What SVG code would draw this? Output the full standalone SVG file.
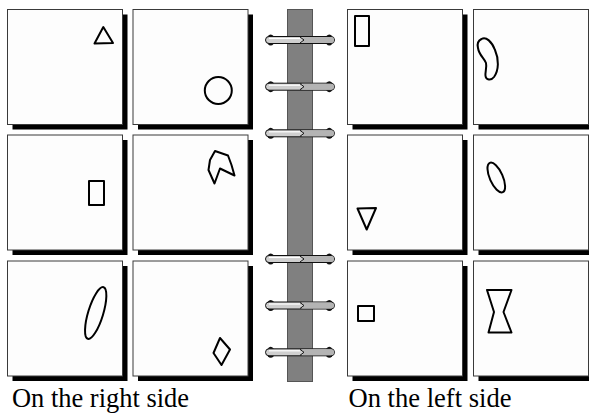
<svg xmlns="http://www.w3.org/2000/svg" width="589" height="413" viewBox="0 0 589 413">
<style>
.shadow{fill:#000}
.card{fill:#fdfdfd;stroke:#3a3a3a;stroke-width:1}
.shape{fill:none;stroke:#000;stroke-width:2;stroke-linejoin:round}
.lbl{font-family:"Liberation Serif","Times New Roman",serif;font-size:27px;fill:#000}
.knob{fill:#111}
.barL{fill:#cfcfcf;stroke:#111;stroke-width:1}
.barR{fill:#b4b4b4}
.hl{stroke:#fff;stroke-width:1.2;fill:none}
</style>
<defs>
<g id="card">
<rect class="shadow" x="5" y="5" width="115" height="115"/>
<rect class="card" x="0" y="0" width="115" height="115"/>
</g>
<g id="ring">
<ellipse class="knob" cx="270.7" cy="0" rx="4" ry="5.5"/>
<ellipse class="knob" cx="329.3" cy="0" rx="4" ry="5.5"/>
<rect class="barL" x="265.5" y="-3.5" width="69" height="7" rx="3.5"/>
<path class="barR" d="M302,-3 H331 A3,3 0 0 1 331,3 H302 L304,0 Z"/>
<path class="hl" d="M269,-1.5 H300"/>
<path d="M300,-3 L304,0 L300,3" fill="none" stroke="#111" stroke-width="1"/>
</g>
</defs>
<rect width="589" height="413" fill="#fff"/>

<g id="spine">
<rect x="287.5" y="9.5" width="25" height="372" fill="#808080" stroke="#555" stroke-width="1"/>
</g>

<g id="panel-r1c1">
<use href="#card" x="7.5" y="9.5"/>
<polygon class="shape" points="103.3,27 94.5,43.5 113,43"/>
</g>
<g id="panel-r1c2">
<use href="#card" x="133" y="9.5"/>
<circle class="shape" cx="218.3" cy="90.5" r="13.5"/>
</g>
<g id="panel-r2c1">
<use href="#card" x="7.5" y="135"/>
<rect class="shape" x="89" y="181" width="15" height="24"/>
</g>
<g id="panel-r2c2">
<use href="#card" x="133" y="135"/>
<polygon class="shape" points="215,151 228,155.5 231.5,165 234.5,175.5 220,168.5 214.5,183.5 208.5,170 210,160"/>
</g>
<g id="panel-r3c1">
<use href="#card" x="7.5" y="261"/>
<ellipse class="shape" cx="95.7" cy="313" rx="7.5" ry="27" transform="rotate(17 95.7 313)"/>
</g>
<g id="panel-r3c2">
<use href="#card" x="133" y="261"/>
<polygon class="shape" points="220,338 230,349.5 221.5,365 213.5,353"/>
</g>

<g id="panel-l1c1">
<use href="#card" x="347.5" y="9.5"/>
<rect class="shape" x="355" y="16" width="14" height="30"/>
</g>
<g id="panel-l1c2">
<use href="#card" x="473.5" y="9.5"/>
<path class="shape" d="M481.5,39 C486,36 492,42 495,50 C499,59 499,70 494,77 C491,81 486,80 485.5,76 C485,72 487,67 486,63 C484,58 479,55 478,48 C477,44 478.5,40.5 481.5,39 Z"/>
</g>
<g id="panel-l2c1">
<use href="#card" x="347.5" y="135"/>
<polygon class="shape" points="357.5,208.5 376,208 366.7,229.5"/>
</g>
<g id="panel-l2c2">
<use href="#card" x="473.5" y="135"/>
<ellipse class="shape" cx="496.3" cy="177.5" rx="6.5" ry="16" transform="rotate(-24 496.3 177.5)"/>
</g>
<g id="panel-l3c1">
<use href="#card" x="347.5" y="261"/>
<rect class="shape" x="358" y="306" width="16" height="15"/>
</g>
<g id="panel-l3c2">
<use href="#card" x="473.5" y="261"/>
<polygon class="shape" points="487,290 511.5,290 503.5,312 511.5,332.5 488.5,332.5 494,312"/>
</g>

<g id="rings">
<use href="#ring" y="40"/>
<use href="#ring" y="86.7"/>
<use href="#ring" y="133.3"/>
<use href="#ring" y="259"/>
<use href="#ring" y="305.5"/>
<use href="#ring" y="352.3"/>
</g>

<g id="labels">
<text class="lbl" x="12" y="407" textLength="177" lengthAdjust="spacingAndGlyphs">On the right side</text>
<text class="lbl" x="348.5" y="407" textLength="163" lengthAdjust="spacingAndGlyphs">On the left side</text>
</g>
</svg>
